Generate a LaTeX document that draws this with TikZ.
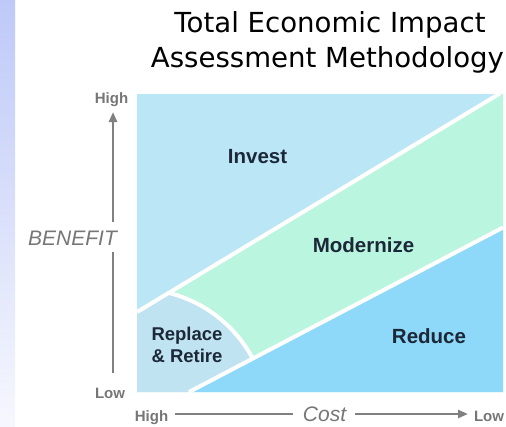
\documentclass[tikz,border=0pt]{standalone}
\usepackage{fontspec}
\setmainfont{Liberation Sans}
\newfontfamily\titlefont{DejaVu Sans}
\usetikzlibrary{arrows.meta}
\definecolor{investc}{RGB}{186,230,246}
\definecolor{modernc}{RGB}{186,245,224}
\definecolor{reducec}{RGB}{142,216,250}
\definecolor{replacec}{RGB}{192,227,242}
\definecolor{labelc}{RGB}{28,40,56}
\definecolor{axisc}{RGB}{128,128,128}
\definecolor{axtextc}{RGB}{118,118,118}
\definecolor{stripTop}{RGB}{190,201,247}
\definecolor{stripBot}{RGB}{246,247,254}
\tikzset{
  region/.style={draw=none},
  sep/.style={white, line width=4pt},
  lbl/.style={anchor=base, inner sep=0pt, text=labelc, font=\bfseries\fontsize{20.5}{24}\selectfont},
  smalllbl/.style={anchor=base, inner sep=0pt, text=labelc, font=\bfseries\fontsize{18.5}{22}\selectfont},
  axlbl/.style={anchor=base, inner sep=0pt, text=axtextc, font=\bfseries\fontsize{15}{18}\selectfont},
  axname/.style={anchor=base, inner sep=0pt, text=axtextc, font=\itshape\fontsize{21}{24}\selectfont},
  axline/.style={axisc, line width=2.6pt},
  axarrow/.style={axisc, line width=2.6pt, -{Triangle[length=10pt,width=8pt]}},
  ttl/.style={anchor=base, inner sep=0pt, font=\titlefont\fontsize{27.6}{32}\selectfont}
}
\begin{document}
\begin{tikzpicture}[x=1pt,y=-1pt]
\useasboundingbox (0,0) rectangle (506,426);
% left strip
\shade[top color=stripTop, bottom color=stripBot] (0,0) rectangle (15,426);
% chart regions
\fill[investc] (137,94) rectangle (503,392);
\fill[modernc] (137,312) -- (499,94) -- (503,94) -- (503,392) -- (137,392) -- cycle;
\begin{scope}
  \clip (137,312) -- (499,94) -- (503,94) -- (503,228) -- (189,392) -- (137,392) -- cycle;
  \fill[replacec] (137,420) circle[radius=131];
  \draw[sep] (137,420) circle[radius=131];
\end{scope}
\fill[reducec] (189,392) -- (503,228) -- (503,392) -- cycle;
\draw[sep] (137,312) -- (500,93.4);
\draw[sep] (189,392) -- (503,227.5);
% title
\node[ttl] (t1) at (330,32) {Total Economic Impact};
\node[ttl] (t2) at (327.5,67) {Assessment Methodology};
% region labels
\node[lbl] (invest) at (257.5,163) {Invest};
\node[lbl] (modern) at (363.5,252) {Modernize};
\node[lbl] (reduce) at (429,343) {Reduce};
\node[smalllbl] (repl1) at (187,340) {Replace};
\node[smalllbl] (repl2) at (187,362) {\& Retire};
% vertical axis
\node[axlbl] (hiY) at (111.5,103) {High};
\node[axlbl] (loY) at (110,398) {Low};
\node[axname] (ben) at (72.5,245) {BENEFIT};
\coordinate (vbot) at (113,373);
\coordinate (vmid1) at (113,252);
\coordinate (vmid2) at (113,222);
\coordinate (vtop) at (113,112);
\draw[axline] (vbot) -- (vmid1);
\draw[axarrow] (vmid2) -- (vtop);
% horizontal axis
\node[axlbl] (hiX) at (151.5,421) {High};
\node[axname] (cost) at (324.5,421) {Cost};
\node[axlbl] (loX) at (489,421) {Low};
\coordinate (hl1) at (175,414);
\coordinate (hl2) at (293,414);
\coordinate (hr1) at (355,414);
\coordinate (hr2) at (468,414);
\draw[axline] (hl1) -- (hl2);
\draw[axarrow] (hr1) -- (hr2);
\end{tikzpicture}
\end{document}
